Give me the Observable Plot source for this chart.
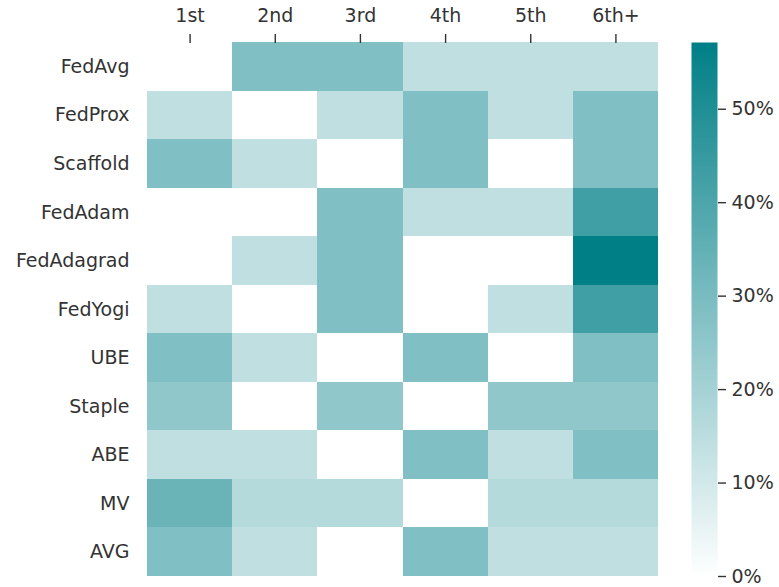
<!DOCTYPE html>
<html>
<head>
<meta charset="utf-8">
<script src="https://cdn.jsdelivr.net/npm/d3@7"></script>
<script src="https://cdn.jsdelivr.net/npm/@observablehq/plot@0.6"></script>
<style>
  html, body { margin: 0; padding: 0; background: #fff; }
  #wrap { position: relative; width: 779px; height: 587px; }
  #wrap svg { position: absolute; left: 0; top: 0; overflow: visible; }
</style>
</head>
<body>
<div id="wrap"></div>
<script>
const methods = ["FedAvg", "FedProx", "Scaffold", "FedAdam", "FedAdagrad", "FedYogi", "UBE", "Staple", "ABE", "MV", "AVG"];
const ranks = ["1st", "2nd", "3rd", "4th", "5th", "6th+"];
// share of cases (%) in which each method achieved each rank
const shares = [
  [0, 28.57, 28.57, 14.29, 14.29, 14.29],   // FedAvg
  [14.29, 0, 14.29, 28.57, 14.29, 28.57],   // FedProx
  [28.57, 14.29, 0, 28.57, 0, 28.57],       // Scaffold
  [0, 0, 28.57, 14.29, 14.29, 42.86],       // FedAdam
  [0, 14.29, 28.57, 0, 0, 57.14],           // FedAdagrad
  [14.29, 0, 28.57, 0, 14.29, 42.86],       // FedYogi
  [28.57, 14.29, 0, 28.57, 0, 28.57],       // UBE
  [25, 0, 25, 0, 25, 25],                   // Staple
  [14.29, 14.29, 0, 28.57, 14.29, 28.57],   // ABE
  [33.33, 16.67, 16.67, 0, 16.67, 16.67],   // MV
  [28.57, 14.29, 0, 28.57, 14.29, 14.29]    // AVG
];
const colorTicks = [0, 10, 20, 30, 40, 50];
const colorMax = 57.14;

const cells = [];
methods.forEach((m, i) => ranks.forEach((r, j) => cells.push({method: m, rank: r, value: shares[i][j]})));

const W = 779, H = 587;
const font = "DejaVu Sans, sans-serif";
const textColor = "#333";
const fs = 19;
const colorOpts = {type: "linear", domain: [0, colorMax], range: ["#ffffff", "#007f86"], interpolate: "rgb"};

const main = Plot.plot({
  width: W, height: H,
  marginLeft: 147, marginRight: 121, marginTop: 42, marginBottom: 11,
  style: {fontFamily: font, fontSize: fs + "px", color: textColor, background: "transparent"},
  x: {domain: ranks, padding: 0, round: false, axis: null},
  y: {domain: methods, padding: 0, round: false, axis: null},
  color: colorOpts,
  marks: [
    Plot.cell(cells, {x: "rank", y: "method", fill: "value", inset: 0, shapeRendering: "crispEdges"}),
    Plot.axisX({anchor: "top", tickSize: 9, tickPadding: 12, label: null, fontSize: fs, color: textColor, stroke: textColor, strokeWidth: 1.4}),
    Plot.axisY({anchor: "left", tickSize: 0, tickPadding: 18, label: null, fontSize: fs, color: textColor})
  ]
});

const bar = Plot.plot({
  width: W, height: H,
  marginLeft: 691, marginRight: 62, marginTop: 42, marginBottom: 11,
  style: {fontFamily: font, fontSize: fs + "px", color: textColor, background: "transparent"},
  x: {domain: [0, 1], axis: null},
  y: {domain: [0, colorMax], axis: null},
  color: colorOpts,
  marks: [
    Plot.raster({x1: 0, x2: 1, y1: 0, y2: colorMax, width: 1, height: 400, fill: (x, y) => y, imageRendering: "auto"}),
    Plot.axisY({anchor: "right", ticks: colorTicks, tickSize: 8, tickPadding: 6, tickFormat: d => d + "%", label: null, fontSize: fs, color: textColor, stroke: textColor, strokeWidth: 1.4})
  ]
});

const wrap = document.getElementById("wrap");
wrap.appendChild(main);
wrap.appendChild(bar);
</script>
</body>
</html>
